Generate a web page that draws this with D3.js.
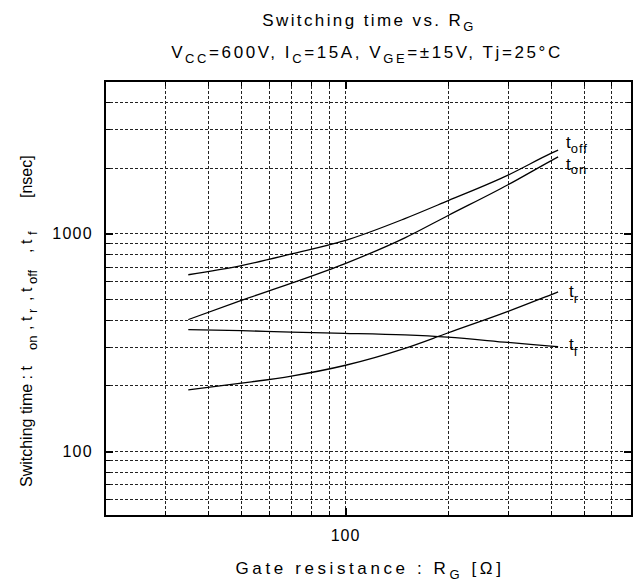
<!DOCTYPE html>
<html>
<head>
<meta charset="utf-8">
<script src="https://cdn.jsdelivr.net/npm/d3@7"></script>
<style>
  html, body { margin: 0; padding: 0; background: #fff; }
  svg { display: block; font-family: "Liberation Sans", Arial, sans-serif; }
</style>
</head>
<body>
<svg id="chart" width="634" height="583"></svg>
<script>
// Gate resistance samples [Ω]
const rg = [35, 50, 70, 100, 150, 200, 300, 400, 420];
// Switching times [nsec]
const tOff = [643, 708, 801, 922, 1165, 1406, 1846, 2322, 2407];
const tOn  = [400, 490, 588, 722, 950, 1201, 1667, 2148, 2240];
const tR   = [190, 204, 220, 246, 295, 347, 436, 520, 536];
const tF   = [360, 356, 350, 346, 340, 332, 314, 302, 300];

const xGrid = [30, 40, 50, 60, 70, 80, 90, 100, 200, 300, 400, 500, 600];
const yGrid = [60, 70, 80, 90, 100, 200, 300, 400, 500, 600, 700, 800, 900, 1000, 2000, 3000, 4000];
const xTickLabels = [100];
const yTickLabels = [100, 1000];

const series = [
  { name: "off", values: tOff, lx: 566, ly: 148, dy: 4.5 },
  { name: "on",  values: tOn,  lx: 566, ly: 170, dy: 3.5 },
  { name: "r",   values: tR,   lx: 569, ly: 297, dy: 5.5 },
  { name: "f",   values: tF,   lx: 569, ly: 350, dy: 5.5 }
];

const svg = d3.select("#chart");
const L = 105, R = 632, T = 81, B = 516;

const x = d3.scaleLog().domain([20, 690]).range([L, R]);
const y = d3.scaleLog().domain([50, 5000]).range([B, T]);

// dashed grid
const grid = svg.append("g").attr("stroke", "#222").attr("stroke-width", 1)
  .attr("stroke-dasharray", "3,2").attr("shape-rendering", "crispEdges");
grid.selectAll("line.vx").data(xGrid).join("line")
  .attr("x1", d => Math.round(x(d)) + 0.5).attr("x2", d => Math.round(x(d)) + 0.5)
  .attr("y1", T).attr("y2", B);
grid.selectAll("line.hy").data(yGrid).join("line")
  .attr("x1", L).attr("x2", R)
  .attr("y1", d => Math.round(y(d)) + 0.5).attr("y2", d => Math.round(y(d)) + 0.5);

// inward ticks on all four sides
const isMajor = v => Math.abs(Math.log10(v) - Math.round(Math.log10(v))) < 1e-9;
const ticks = svg.append("g").attr("stroke", "#000").attr("shape-rendering", "crispEdges");
xGrid.forEach(v => {
  const len = isMajor(v) ? 8 : 5;
  const sw = isMajor(v) ? 2 : 1.5;
  const px = Math.round(x(v)) + 0.5;
  ticks.append("line").attr("x1", px).attr("x2", px).attr("y1", B).attr("y2", B - len).attr("stroke-width", sw);
  ticks.append("line").attr("x1", px).attr("x2", px).attr("y1", T).attr("y2", T + len).attr("stroke-width", sw);
});
yGrid.forEach(v => {
  const len = isMajor(v) ? 8 : 5;
  const sw = isMajor(v) ? 2 : 1.5;
  const py = Math.round(y(v)) + 0.5;
  ticks.append("line").attr("y1", py).attr("y2", py).attr("x1", L).attr("x2", L + len).attr("stroke-width", sw);
  ticks.append("line").attr("y1", py).attr("y2", py).attr("x1", R).attr("x2", R - len).attr("stroke-width", sw);
});

// frame
svg.append("rect").attr("x", L).attr("y", T).attr("width", R - L).attr("height", B - T)
  .attr("fill", "none").attr("stroke", "#000").attr("stroke-width", 2);

// curves
const line = d3.line()
  .x((d, i) => x(rg[i]))
  .y(d => y(d))
  .curve(d3.curveMonotoneX);
svg.append("g").selectAll("path").data(series).join("path")
  .attr("d", s => line(s.values))
  .attr("fill", "none").attr("stroke", "#000").attr("stroke-width", 1.3);

// curve labels
series.forEach(s => {
  const t = svg.append("text").attr("x", s.lx).attr("y", s.ly)
    .attr("font-size", 17).attr("fill", "#000");
  t.append("tspan").text("t");
  t.append("tspan").attr("font-size", 13).attr("letter-spacing", 1).attr("dy", s.dy).text(s.name);
});

// tick labels
svg.append("g").selectAll("text").data(xTickLabels).join("text")
  .attr("x", d => x(d) + 1).attr("y", 541).attr("text-anchor", "middle")
  .attr("font-size", 16).attr("letter-spacing", 1).text(d => d);
svg.append("g").selectAll("text").data(yTickLabels).join("text")
  .attr("x", 93).attr("y", d => y(d) + 6).attr("text-anchor", "end")
  .attr("font-size", 16).attr("letter-spacing", 1.3).text(d => d);

// text with subscripts: parts = [[text, isSub], ...]
function draw(g, parts, size, subSize, drop) {
  let down = false;
  parts.forEach(([str, sub]) => {
    let dy = 0;
    if (sub && !down) { dy = drop; down = true; }
    else if (!sub && down) { dy = -drop; down = false; }
    g.append("tspan").attr("font-size", sub ? subSize : size).attr("dy", dy).text(str);
  });
}

// title and conditions
const title = svg.append("text").attr("x", 369).attr("y", 26).attr("text-anchor", "middle")
  .attr("font-size", 17).attr("letter-spacing", 2.4);
draw(title, [["Switching time vs. R", false], ["G", true]], 17, 13, 5);

const cond = svg.append("text").attr("x", 367).attr("y", 58).attr("text-anchor", "middle")
  .attr("font-size", 17).attr("letter-spacing", 2.6);
draw(cond, [["V", false], ["CC", true], ["=600V, I", false], ["C", true], ["=15A, V", false],
  ["GE", true], ["=±15V, Tj=25°C", false]], 17, 13, 5);

// x axis title
const xt = svg.append("text").attr("x", 370).attr("y", 574).attr("text-anchor", "middle")
  .attr("font-size", 17).attr("letter-spacing", 3.6);
draw(xt, [["Gate resistance : R", false], ["G", true], [" [Ω]", false]], 17, 13, 5);

// y axis title, pieces placed along the rotated baseline
const yPieces = [
  { s: "Switching time : t", u: 0, sub: false },
  { s: "on", u: 137, sub: true },
  { s: ", t", u: 157, sub: false },
  { s: "r", u: 174, sub: true },
  { s: ", t", u: 186, sub: false },
  { s: "off", u: 203, sub: true },
  { s: ", t", u: 234, sub: false },
  { s: "f", u: 252, sub: true },
  { s: "[nsec]", u: 289, sub: false }
];
const yt = svg.append("g").attr("transform", "translate(32,487) rotate(-90)");
yt.selectAll("text").data(yPieces).join("text")
  .attr("x", d => d.u).attr("y", d => d.sub ? 5 : 0)
  .attr("font-size", d => d.sub ? 13 : 16)
  .text(d => d.s);
</script>
</body>
</html>
